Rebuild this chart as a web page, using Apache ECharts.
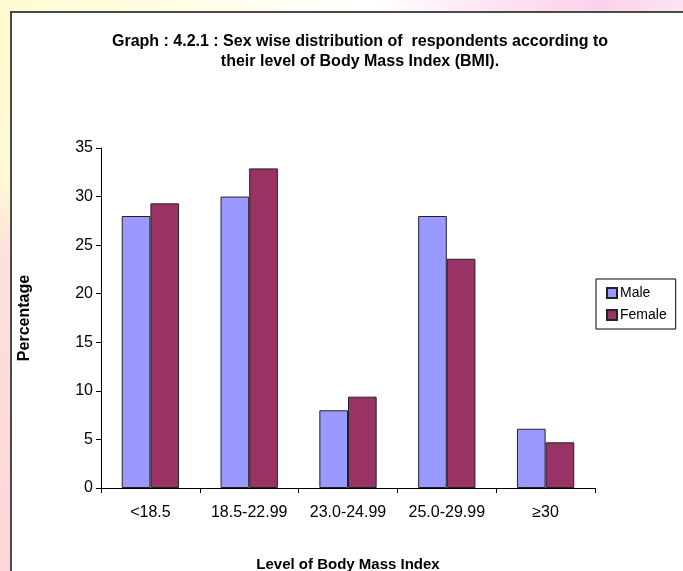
<!DOCTYPE html>
<html>
<head>
<meta charset="UTF-8">
<title>BMI by sex</title>
<script src="https://cdn.jsdelivr.net/npm/echarts@6/dist/echarts.min.js"></script>
<style>
  html, body { margin: 0; padding: 0; }
  body {
    width: 683px; height: 571px; overflow: hidden;
    background: linear-gradient(to right, #fffbd2 0%, #fffde8 30%, #ffffff 55%, #fde0f2 75%, #fbd2ec 88%, #fbe4f2 100%);
  }
  #side {
    position: absolute; left: 0; top: 0; width: 11px; height: 571px;
    background: linear-gradient(to bottom, #fffbcf 0%, #fffbd6 30%, #fde0dc 45%, #fcd7d7 100%);
  }
  #chart { position: absolute; left: 0; top: 0; width: 683px; height: 571px; }
</style>
</head>
<body>
<div id="side"></div>
<div id="chart"></div>
<script>
  // data
  var categories = ['<18.5', '18.5-22.99', '23.0-24.99', '25.0-29.99', '≥30'];
  var male = [28, 30, 8, 28, 6.1];
  var female = [29.3, 32.9, 9.4, 23.6, 4.7];
  var yTicks = { min: 0, max: 35, step: 5 };

  var font = 'Liberation Sans, Arial, sans-serif';

  var chart = echarts.init(document.getElementById('chart'));
  chart.setOption({
    animation: false,
    backgroundColor: 'transparent',
    graphic: [{
      type: 'rect',
      z: -10,
      shape: { x: 11, y: 12, width: 700, height: 600 },
      style: { fill: '#ffffff', stroke: '#4a4a4a', lineWidth: 2 }
    }],
    title: {
      text: 'Graph : 4.2.1 : Sex wise distribution of  respondents according to\ntheir level of Body Mass Index (BMI).',
      left: 355,
      textAlign: 'center',
      top: 27,
      textStyle: { fontFamily: font, fontSize: 16, fontWeight: 'bold', color: '#000', lineHeight: 20 }
    },
    legend: {
      orient: 'vertical',
      left: 596,
      top: 279,
      padding: [7, 9, 7, 10],
      itemGap: 8,
      itemWidth: 10,
      itemHeight: 10,
      borderColor: '#000',
      borderWidth: 1,
      backgroundColor: '#fff',
      icon: 'rect',
      textStyle: { fontFamily: font, fontSize: 14, color: '#000', padding: [0, 0, 0, -2] },
      data: ['Male', 'Female']
    },
    grid: { left: 101, top: 148, width: 494, height: 340, outerBoundsMode: 'none', containLabel: false },
    xAxis: {
      type: 'category',
      data: categories,
      name: 'Level of Body Mass Index',
      nameLocation: 'middle',
      nameGap: 69,
      nameTextStyle: { fontFamily: font, fontSize: 15, fontWeight: 'bold', color: '#000' },
      axisLine: { lineStyle: { color: '#000', width: 1 } },
      axisTick: { show: true, length: 5, lineStyle: { color: '#000' } },
      axisLabel: { fontFamily: font, fontSize: 16, color: '#000', margin: 17, interval: 0 }
    },
    yAxis: {
      type: 'value',
      min: yTicks.min,
      max: yTicks.max,
      interval: yTicks.step,
      name: 'Percentage',
      nameLocation: 'middle',
      nameGap: 68,
      nameTextStyle: { fontFamily: font, fontSize: 16, fontWeight: 'bold', color: '#000' },
      axisLine: { show: true, lineStyle: { color: '#000', width: 1 } },
      axisTick: { show: true, length: 5, lineStyle: { color: '#000' } },
      axisLabel: { fontFamily: font, fontSize: 16, color: '#000', margin: 8 },
      splitLine: { show: false }
    },
    series: [{
      name: 'Male',
      type: 'bar',
      data: male,
      barGap: '0%',
      barCategoryGap: '42%',
      itemStyle: { color: '#9999ff', borderColor: '#222', borderWidth: 1 }
    }, {
      name: 'Female',
      type: 'bar',
      data: female,
      itemStyle: { color: '#993366', borderColor: '#222', borderWidth: 1 }
    }]
  });
</script>
</body>
</html>
